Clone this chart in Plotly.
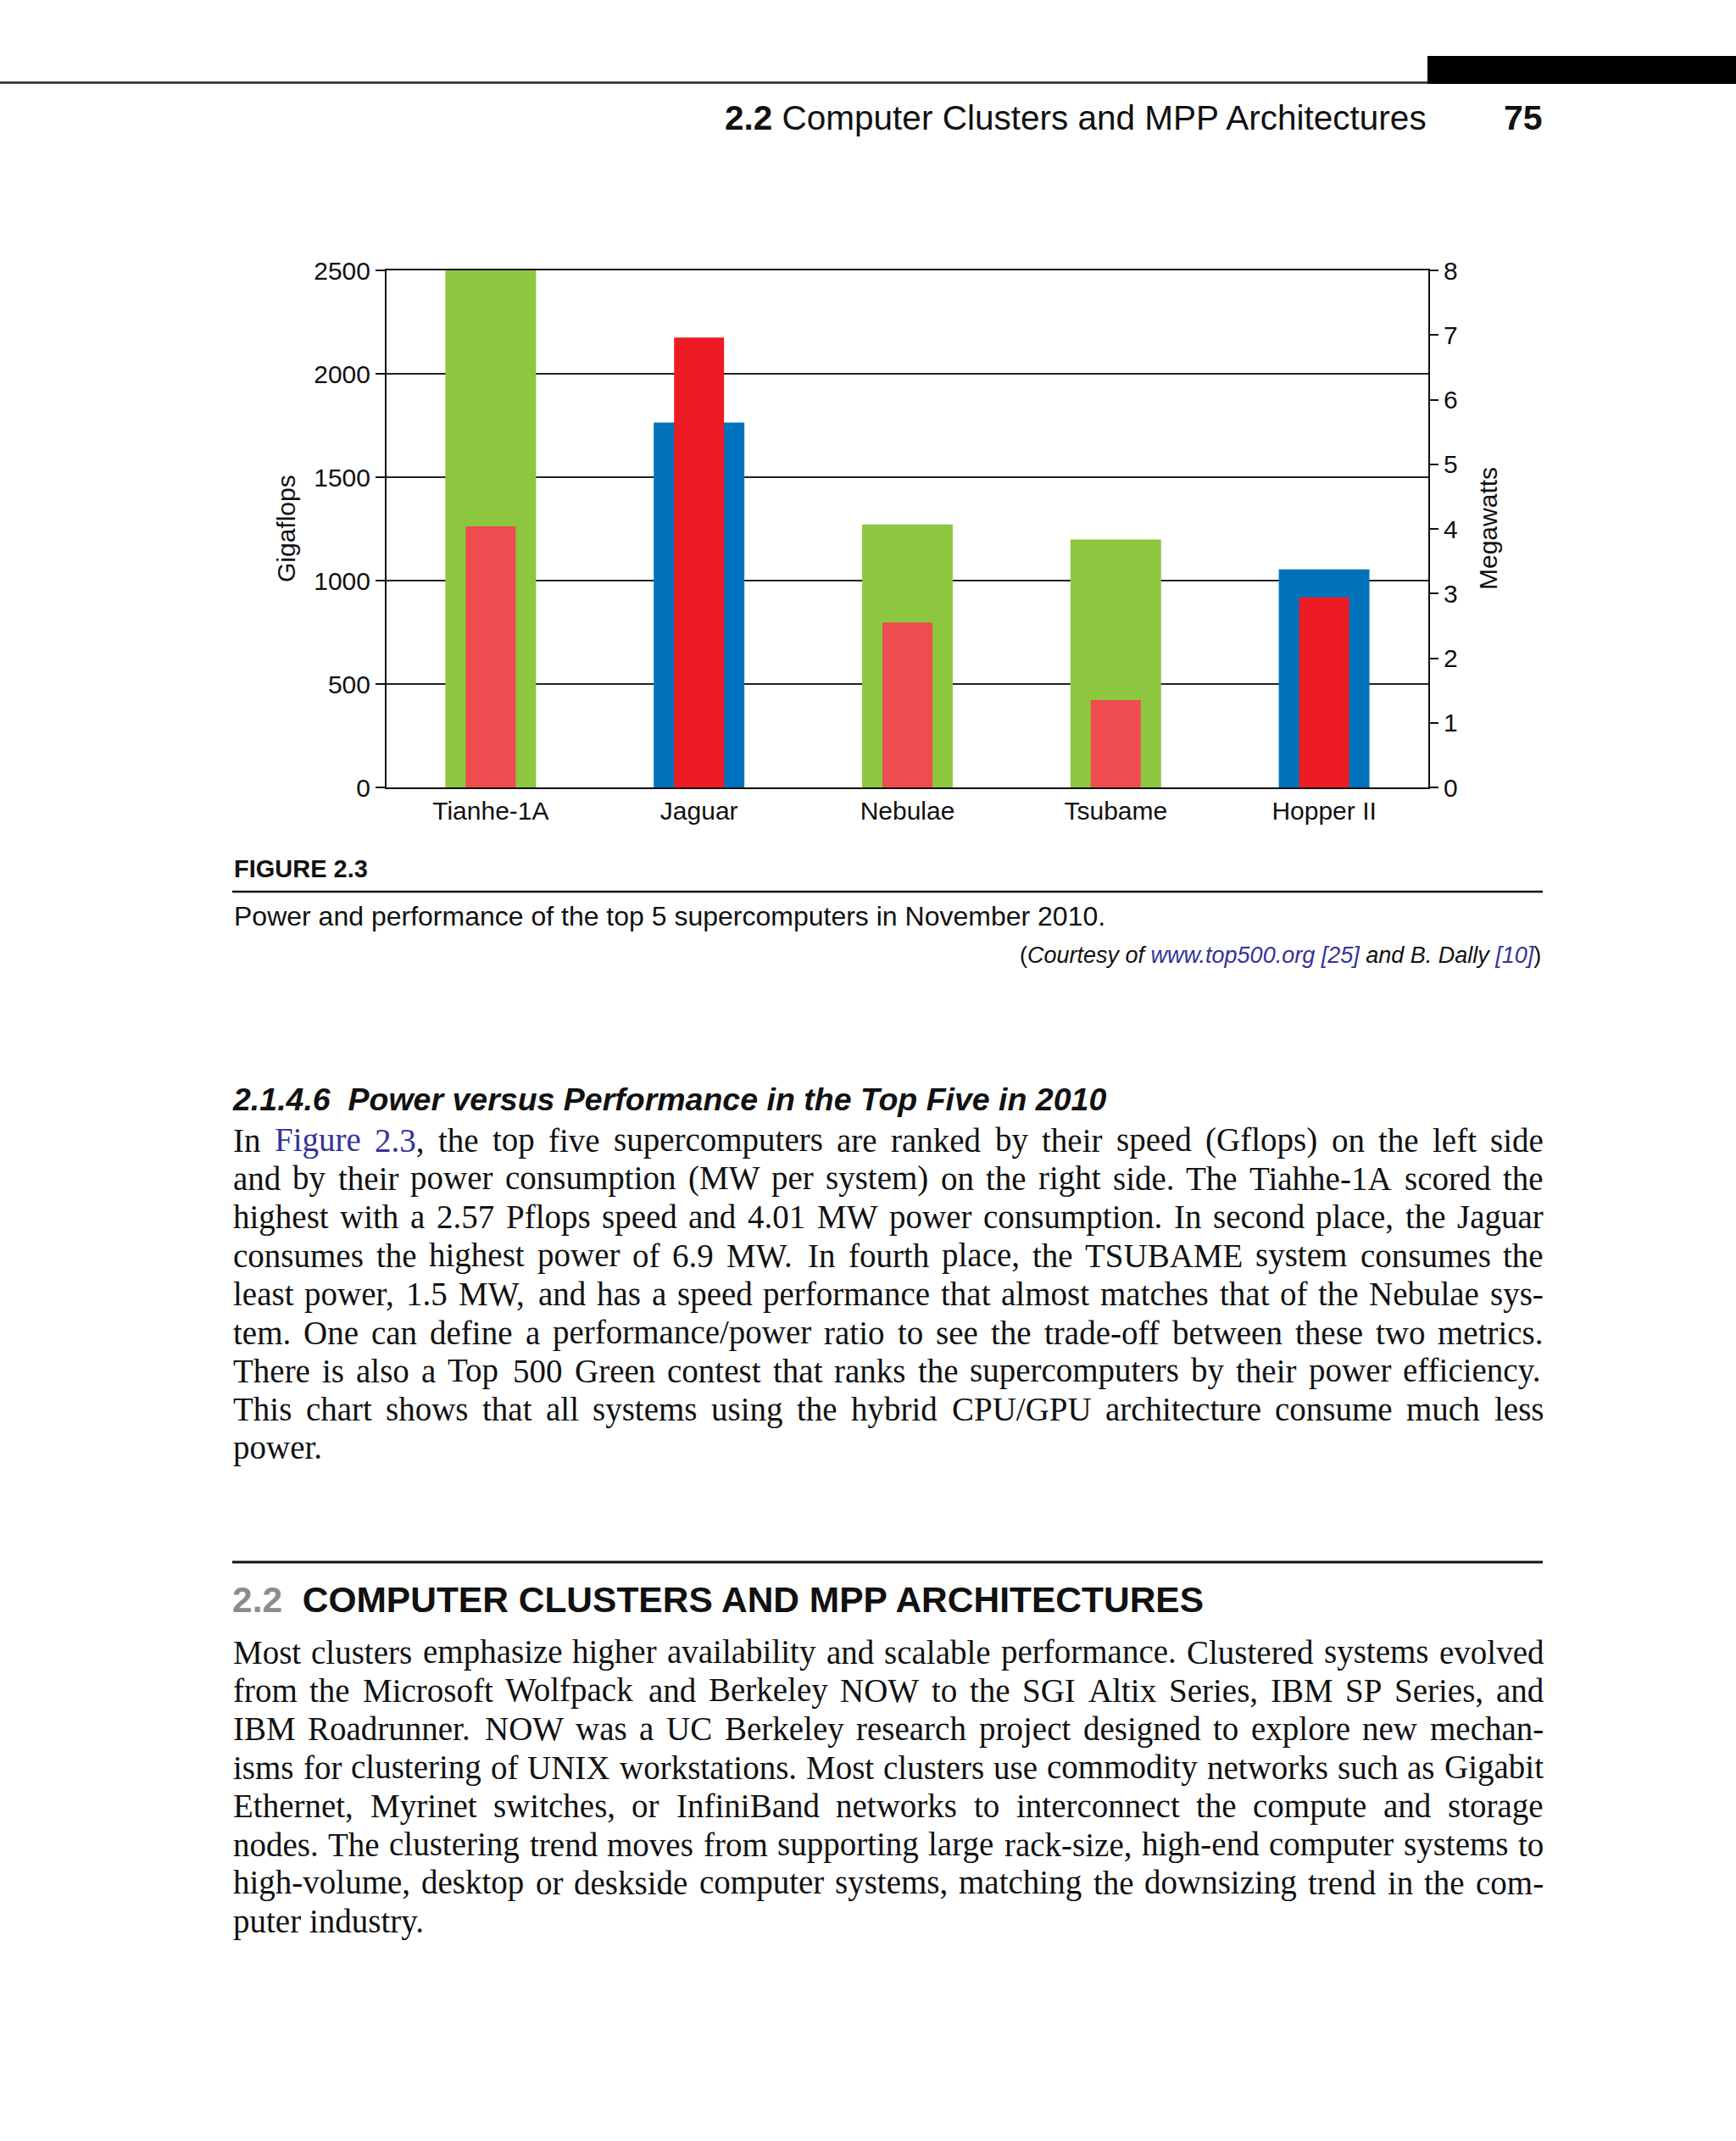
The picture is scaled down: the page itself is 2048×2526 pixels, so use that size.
import plotly.graph_objects as go

W_PX, H_PX = 2048, 2526

# ---------------- data ----------------
systems = ["Tianhe-1A", "Jaguar", "Nebulae", "Tsubame", "Hopper II"]
gigaflops = [2566, 1764, 1272, 1199, 1054]
megawatts = [4.04, 6.96, 2.55, 1.35, 2.94]
perf_colors = ["#8DC63F", "#0072BC", "#8DC63F", "#8DC63F", "#0072BC"]
power_colors = ["#EF4C4F", "#ED1C24", "#EF4C4F", "#EF4C4F", "#ED1C24"]
gflops_ticks = [0, 500, 1000, 1500, 2000, 2500]
mw_ticks = [0, 1, 2, 3, 4, 5, 6, 7, 8]

SANS = "Liberation Sans, Arial, Helvetica, sans-serif"
SERIF = "Liberation Serif, Times New Roman, Times, serif"
LINK = "#333399"

para1 = [
    "In {Figure} {2.3}, the top five supercomputers are ranked by their speed (Gflops) on the left side",
    "and by their power consumption (MW per system) on the right side. The Tiahhe-1A scored the",
    "highest with a 2.57 Pflops speed and 4.01 MW power consumption. In second place, the Jaguar",
    "consumes the highest power of 6.9 MW. In fourth place, the TSUBAME system consumes the",
    "least power, 1.5 MW, and has a speed performance that almost matches that of the Nebulae sys-",
    "tem. One can define a performance/power ratio to see the trade-off between these two metrics.",
    "There is also a Top 500 Green contest that ranks the supercomputers by their power efficiency.",
    "This chart shows that all systems using the hybrid CPU/GPU architecture consume much less",
    "power.",
]
para2 = [
    "Most clusters emphasize higher availability and scalable performance. Clustered systems evolved",
    "from the Microsoft Wolfpack and Berkeley NOW to the SGI Altix Series, IBM SP Series, and",
    "IBM Roadrunner. NOW was a UC Berkeley research project designed to explore new mechan-",
    "isms for clustering of UNIX workstations. Most clusters use commodity networks such as Gigabit",
    "Ethernet, Myrinet switches, or InfiniBand networks to interconnect the compute and storage",
    "nodes. The clustering trend moves from supporting large rack-size, high-end computer systems to",
    "high-volume, desktop or deskside computer systems, matching the downsizing trend in the com-",
    "puter industry.",
]

# Times-Roman advance widths (per 1000 em), used to justify body lines
_tw = {' ': 250, '!': 333, '"': 408, '#': 500, '$': 500, '%': 833, '&': 778, "'": 180,
       '(': 333, ')': 333, '*': 500, '+': 564, ',': 250, '-': 333, '.': 250, '/': 278,
       ':': 278, ';': 278, '<': 564, '=': 564, '>': 564, '?': 444, '@': 921,
       'A': 722, 'B': 667, 'C': 667, 'D': 722, 'E': 611, 'F': 556, 'G': 722, 'H': 722,
       'I': 333, 'J': 389, 'K': 722, 'L': 611, 'M': 889, 'N': 722, 'O': 722, 'P': 556,
       'Q': 722, 'R': 667, 'S': 556, 'T': 611, 'U': 722, 'V': 722, 'W': 944, 'X': 722,
       'Y': 722, 'Z': 611, '[': 333, ']': 333, 'a': 444, 'b': 500, 'c': 444, 'd': 500,
       'e': 444, 'f': 333, 'g': 500, 'h': 500, 'i': 278, 'j': 278, 'k': 500, 'l': 278,
       'm': 778, 'n': 500, 'o': 500, 'p': 500, 'q': 500, 'r': 333, 's': 389, 't': 278,
       'u': 500, 'v': 500, 'w': 722, 'x': 500, 'y': 500, 'z': 444}
for d in "0123456789":
    _tw[d] = 500


def tw(s):
    return sum(_tw.get(c, 500) for c in s) / 1000.0


def px(x):
    return x / W_PX


def py(y):
    return 1 - y / H_PX


annotations = []


def ann(text, x, y, size, family=SANS, color="#111111", xanchor="left", yanchor="middle", **kw):
    annotations.append(dict(text=text, x=px(x), y=py(y), xref="paper", yref="paper",
                            showarrow=False, xanchor=xanchor, yanchor=yanchor,
                            font=dict(size=size, family=family, color=color), **kw))


# ---------------- chart ----------------
fig = go.Figure()
fig.add_trace(go.Bar(x=systems, y=gigaflops, width=0.435, yaxis="y",
                     marker=dict(color=perf_colors, line=dict(width=0)), hoverinfo="skip"))
fig.add_trace(go.Bar(x=systems, y=megawatts, width=0.24, yaxis="y2",
                     marker=dict(color=power_colors, line=dict(width=0)), hoverinfo="skip"))

x0, x1, y0, y1 = 456, 1685, 319, 929
ydom = [py(y1), py(y0)]
fig.update_layout(
    width=W_PX, height=H_PX, autosize=False,
    margin=dict(l=0, r=0, t=0, b=0, pad=0, autoexpand=False),
    paper_bgcolor="white", plot_bgcolor="white",
    barmode="overlay", showlegend=False,
    font=dict(family=SANS, size=30, color="#111111"),
    xaxis=dict(domain=[px(x0), px(x1)], type="category", showline=True, linecolor="#111111",
               linewidth=2, mirror=True, ticks="", showgrid=False, automargin=False,
               tickfont=dict(size=30, family=SANS, color="#111111")),
    yaxis=dict(domain=ydom, range=[0, 2500], tickvals=gflops_ticks, automargin=False,
               ticks="outside", ticklen=11, tickwidth=2, tickcolor="#111111",
               showline=True, linecolor="#111111", linewidth=2,
               showgrid=True, gridcolor="#222222", gridwidth=1.5, zeroline=False,
               tickfont=dict(size=30, family=SANS, color="#111111")),
    yaxis2=dict(domain=ydom, overlaying="y", side="right", range=[0, 8], tickvals=mw_ticks,
                automargin=False,
                ticks="outside", ticklen=10, tickwidth=2, tickcolor="#111111",
                showline=True, linecolor="#111111", linewidth=2,
                showgrid=False, zeroline=False,
                tickfont=dict(size=30, family=SANS, color="#111111")),
)

ann("Gigaflops", 338, 624, 30, xanchor="center", textangle=-90)
ann("Megawatts", 1756, 624, 30, xanchor="center", textangle=-90)

# ---------------- page furniture ----------------
shapes = [
    dict(type="line", xref="paper", yref="paper", x0=0, x1=px(1685), y0=py(97.5), y1=py(97.5),
         line=dict(color="#222222", width=2.5)),
    dict(type="rect", xref="paper", yref="paper", x0=px(1684), x1=1, y0=py(99), y1=py(66),
         fillcolor="#000000", line=dict(width=0)),
    dict(type="line", xref="paper", yref="paper", x0=px(274), x1=px(1820), y0=py(1052), y1=py(1052),
         line=dict(color="#111111", width=2.5)),
    dict(type="line", xref="paper", yref="paper", x0=px(274), x1=px(1820), y0=py(1843), y1=py(1843),
         line=dict(color="#111111", width=3)),
]
fig.update_layout(shapes=shapes)

ann("<b>2.2</b> Computer Clusters and MPP Architectures", 1685, 139, 40.5, xanchor="right")
ann("<b>75</b>", 1822, 139, 41, xanchor="right")

ann("<b>FIGURE 2.3</b>", 274, 1025, 29)
ann("Power and performance of the top 5 supercomputers in November 2010.", 274, 1081, 32)
ann("(<i>Courtesy of <span style='color:%s'>www.top500.org [25]</span> and B. Dally "
    "<span style='color:%s'>[10]</span></i>)" % (LINK, LINK), 1820, 1127, 27, xanchor="right")

ann("<b><i>2.1.4.6  Power versus Performance in the Top Five in 2010</i></b>", 272, 1297, 37.5)
ann("<b><span style='color:#8C8C8C'>2.2</span>  COMPUTER CLUSTERS AND MPP ARCHITECTURES</b>",
    272, 1887, 42.5)

# ---------------- justified body text ----------------
TEXT_L, TEXT_R = 274, 1820
TEXT_W = TEXT_R - TEXT_L


def plain(w):
    return w.replace("{", "").replace("}", "")


def markup(w):
    return w.replace("{", "<span style='color:%s'>" % LINK).replace("}", "</span>")


all_lines = para1[:-1] + para2[:-1]
F = 39.0
for ln in all_lines:
    ws = [plain(w) for w in ln.split(" ")]
    nat = sum(tw(w) for w in ws)
    F = min(F, TEXT_W / (nat + 0.2 * (len(ws) - 1)))


def body(lines, ytop, lead=45.4):
    for i, ln in enumerate(lines):
        words = ln.split(" ")
        y = ytop + i * lead
        widths = [tw(plain(w)) * F for w in words]
        last = (i == len(lines) - 1)
        if last or len(words) == 1:
            gap = tw(" ") * F
        else:
            gap = (TEXT_W - sum(widths)) / (len(words) - 1)
        x = TEXT_L
        for w, wd in zip(words, widths):
            ann(markup(w), x, y, F, family=SERIF, color="#111111", xanchor="left", borderpad=0)
            x += wd + gap


body(para1, 1345)
body(para2, 1949)

fig.update_layout(annotations=annotations)
fig.write_html(
    "out.html",
    config={"displayModeBar": False, "staticPlot": True},
    post_script="document.body.style.margin='0px';document.body.style.padding='0px';"
                "document.body.style.overflow='hidden';",
)
